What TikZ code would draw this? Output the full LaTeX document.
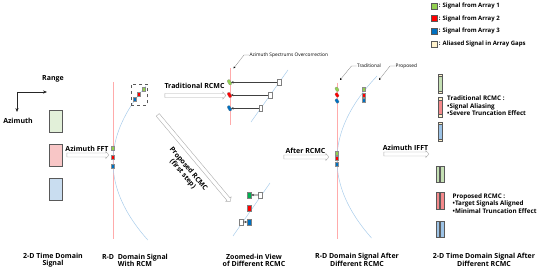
\documentclass[tikz,border=0pt]{standalone}
\usepackage{fontspec}
\setmainfont{Open Sans}
\usepackage{xcolor}
\usetikzlibrary{positioning,arrows.meta,shapes.arrows,calc}

\definecolor{sigA}{HTML}{92D050}
\definecolor{sigAd}{HTML}{00B050}
\definecolor{sigB}{HTML}{FF0000}
\definecolor{sigC}{HTML}{0070C0}
\definecolor{gapc}{HTML}{FFF2CC}
\definecolor{patchA}{HTML}{E2F0D9}
\definecolor{patchB}{HTML}{F8C6C6}
\definecolor{patchC}{HTML}{C9DDF0}
\definecolor{barA}{HTML}{C5E0B4}
\definecolor{barB}{HTML}{F4898B}
\definecolor{barC}{HTML}{9DC3E6}
\definecolor{rdred}{HTML}{FFABAB}
\definecolor{rcmblue}{HTML}{A9CDEB}

\begin{document}
\begin{tikzpicture}[
  x=1pt, y=-1pt,
  font=\bfseries\fontsize{7}{8}\selectfont,
  every node/.style={inner sep=1pt},
  caption/.style={align=center, font=\bfseries\fontsize{7}{7}\selectfont},
  note/.style={font=\fontsize{4.8}{5}\selectfont, inner sep=0.5pt},
  legtxt/.style={font=\bfseries\fontsize{6}{6}\selectfont, anchor=west},
  remark/.style={font=\bfseries\fontsize{6.3}{7.5}\selectfont, align=left, anchor=west},
  hollow/.style={single arrow, draw=gray!65, fill=white, line width=0.4pt,
    inner sep=1.8pt, single arrow head extend=1.6pt, single arrow tip angle=100},
  axis/.style={black!85, line width=0.6pt, -{Stealth[length=4pt, width=3.2pt]}},
  patch/.style={draw=gray!70!black, line width=0.4pt, minimum width=13pt, minimum height=22pt, inner sep=0},
  sig/.style={draw=black!45, line width=0.15pt, minimum width=3pt, minimum height=4pt, inner sep=0},
  tilt/.style={draw=black!45, line width=0.15pt, rounded corners=0.8pt, minimum width=5.5pt, minimum height=3pt, inner sep=0, rotate=-60},
  bigsig/.style={draw=black!50, line width=0.2pt, minimum width=4pt, minimum height=6pt, inner sep=0},
  gapbox/.style={draw=gray, fill=white, line width=0.3pt, minimum width=3.4pt, minimum height=5.8pt, inner sep=0},
  legbox/.style={draw=gray!70!black, line width=0.3pt, minimum size=6pt, inner sep=0},
  bar/.style={draw=gray!70!black, line width=0.3pt, minimum width=3.4pt, inner sep=0},
  endcap/.style={draw=gray!70!black, fill=gapc, line width=0.3pt, minimum width=3.4pt, minimum height=2.4pt, inner sep=0},
  rdline/.style={rdred, line width=0.9pt},
  rcm/.style={rcmblue, line width=0.5pt},
  corr/.style={black!75, line width=0.6pt, -{Stealth[length=2.6pt, width=2.4pt]}},
  lead/.style={gray, line width=0.3pt, -{Stealth[length=2.2pt, width=2pt, black]}}]
\useasboundingbox (0,0) rectangle (550,270);

\coordinate (org) at (17,92);
\coordinate (rgend) at (47,92);
\coordinate (azend) at (17,112);
\node (range) at (53,79) {Range};
\node (azim) at (18,121) {Azimuth};
\draw[axis] (org) -- (rgend);
\draw[axis] (org) -- (azend);

\node[patch, fill=patchA] (p1) at (55.5,121) {};
\node[patch, fill=patchB] (p2) at (55.5,155) {};
\node[patch, fill=patchC] (p3) at (55.5,189) {};

\node[hollow, minimum height=42pt] (fft) at (87,155) {};
\node[above=0pt of fft] {Azimuth FFT};

\draw[rdline] (113,82) -- (113,239);
\draw[rcm] plot[domain=86:240, samples=60] ({113+0.00572*(\x-162)*(\x-162)},\x);
\node[sig, fill=sigA] (r1) at (113,148) {};
\node[sig, fill=sigB] (r2) at (113,157) {};
\node[sig, fill=sigC] (r3) at (113,166) {};
\node[draw=gray!70!black, dashed, line width=0.5pt, minimum width=16pt, minimum height=21pt, inner sep=0] (zbox) at (139,95) {};
\node[sig, fill=sigA] (z1) at (143.3,89) {};
\node[sig, fill=sigB] (z2) at (139,94) {};
\node[sig, fill=sigC] (z3) at (134.3,99.3) {};

\node[hollow, minimum height=61pt] (trad) at (194.5,95.5) {};
\node[above=3.5pt of trad] {Traditional RCMC};
\node[hollow, minimum height=113pt, rotate=-50] (prop) at (193.5,157.5) {};
\node[rotate=-50, align=center, font=\bfseries\fontsize{7}{7.5}\selectfont] (proplbl) at (185.5,171.5) {Proposed RCMC\\(first step)};

\draw[rdline] (230,68) -- (230,125);
\coordinate (zt) at (288,70);
\coordinate (zb) at (251,122);
\draw[rcm] (zt) -- (zb);
\node[tilt, fill=sigA] (o1) at (229.5,82.3) {};
\node[tilt, fill=sigB] (o2) at (229.5,95) {};
\node[tilt, fill=sigC] (o3) at (229.5,108.3) {};
\node[gapbox] (g1) at ($(zt)!0.237!(zb)$) {};
\node[gapbox] (g2) at ($(zt)!0.481!(zb)$) {};
\node[gapbox] (g3) at ($(zt)!0.737!(zb)$) {};
\draw[corr] (g1) -- (o1.east |- g1);
\draw[corr] (g2) -- (o2.east |- g2);
\draw[corr] (g3) -- (o3.east |- g3);
\node[note, anchor=west] (ovr) at (249,55) {Azimuth Spectrums Overcorrection};
\coordinate (ovrtip) at (233.5,68.5);
\draw[lead] (ovr.west) -- ++(-5,0) -- (ovrtip);

\coordinate (pt) at (270,183);
\coordinate (pb) at (233,236);
\draw[rcm] (pt) -- (pb);
\node[bigsig, fill=sigAd] (n1) at (249.3,195) {};
\node[bigsig, fill=sigB] (n2) at (249.3,208.3) {};
\node[bigsig, fill=sigC] (n3) at (249.3,222) {};
\node[gapbox] (h1) at ($(pt)!0.226!(pb)+(-1.5,0)$) {};
\node[gapbox] (h3) at ($(pt)!0.736!(pb)+(-1.5,0)$) {};
\draw[corr] (h1) -- (n1);
\draw[corr] (h3) -- (n3);

\node[hollow, minimum height=45pt] (after) at (305.5,157) {};
\node[above=0pt of after] {After RCMC};

\draw[rdline] (337,83) -- (337,239);
\draw[rcm] plot[domain=76:238, samples=60] ({337+0.00568*(\x-160)*(\x-160)},\x);
\node[tilt, minimum width=4.5pt, fill=sigA] (s1) at (337,89.3) {};
\node[tilt, minimum width=4.5pt, fill=sigB] (s2) at (337,95) {};
\node[tilt, minimum width=4.5pt, fill=sigC] (s3) at (337,101) {};
\node[sig, fill=sigA] (q1) at (363.3,89.3) {};
\node[sig, fill=sigB] (q2) at (363.3,94.8) {};
\node[sig, fill=sigC] (q3) at (363.3,100.3) {};
\node[sig, fill=sigA] (c1) at (337,153.3) {};
\node[sig, fill=sigB] (c2) at (337,158.5) {};
\node[sig, fill=sigC] (c3) at (337,164) {};
\node[note, anchor=west] (tnote) at (356.5,66) {Traditional};
\node[note, anchor=west] (pnote) at (395,66) {Proposed};
\coordinate (ttip) at (340,80);
\coordinate (ptip) at (379,80);
\draw[lead] (tnote.west) -- ++(-5,0) -- (ttip);
\draw[lead] (pnote.west) -- ++(-5,0) -- (ptip);

\node[hollow, minimum height=45pt] (ifft) at (405.5,154) {};
\node[above=0pt of ifft] {Azimuth IFFT};

\foreach \c/\y [count=\i] in {barA/83.6, barB/107.2, barC/131.5} {
  \node[bar, fill=\c, minimum height=19.3pt] (tb\i) at (440,\y) {};
  \node[endcap, anchor=north] at (tb\i.north) {};
  \node[endcap, anchor=south] at (tb\i.south) {};
}
\node[remark] (tradtxt) at (446,106) {Traditional RCMC :\\•Signal Aliasing\\•Severe Truncation Effect};

\foreach \c/\y [count=\i] in {barA/174.2, barB/200.8, barC/229.2} {
  \node[bar, fill=\c, minimum height=16.3pt] (pl\i) at (437.8,\y) {};
  \node[bar, fill=\c, minimum height=16.3pt] (pr\i) at (442.1,\y) {};
}
\node[remark] (proptxt) at (451.5,203.3) {Proposed RCMC :\\•Target Signals Aligned\\•Minimal Truncation Effect};

\foreach \c/\t [count=\i] in {sigA/Signal from Array 1, sigB/Signal from Array 2, sigC/Signal from Array 3, gapc/Aliased Signal in Array Gaps} {
  \node[legbox, fill=\c] (lg\i) at (433.7,{5.7+12.8*(\i-1)}) {};
  \node[legtxt, right=0.8pt of lg\i] {: \t};
}

\node[caption] (cap1) at (53,260) {2-D Time Domain\\Signal};
\node[caption] (cap2) at (135,260) {R-D\ \ Domain Signal\\With RCM};
\node[caption] (cap3) at (254,260) {Zoomed-in View\\of Different RCMC};
\node[caption] (cap4) at (357,260) {R-D Domain Signal After\\Different RCMC};
\node[caption] (cap5) at (484,260) {2-D Time Domain Signal After\\Different RCMC};
\end{tikzpicture}
\end{document}
